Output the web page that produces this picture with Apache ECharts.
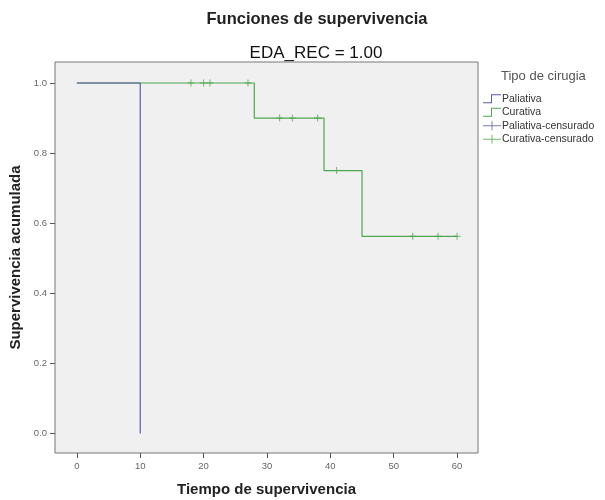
<!DOCTYPE html>
<html>
<head>
<meta charset="utf-8">
<script src="https://cdn.jsdelivr.net/npm/echarts@6/dist/echarts.min.js"></script>
<style>html,body{margin:0;padding:0;background:#fff}#c{width:605px;height:500px}</style>
</head>
<body>
<div id="c"></div>
<script>
// Data
const palTimes = [0, 10];
const palSurv = [1.0, 0.0];
const curTimes = [0, 28, 39, 45, 60];
const curSurv = [1.0, 0.9, 0.75, 0.5625, 0.5625];
const palCensTimes = [];
const palCensSurv = [];
const curCensTimes = [18, 20, 21, 27, 32, 34, 38, 41, 53, 57, 60];
const curCensSurv = [1, 1, 1, 1, 0.9, 0.9, 0.9, 0.75, 0.5625, 0.5625, 0.5625];
const xTicks = [0, 10, 20, 30, 40, 50, 60];
const yTicks = [0, 0.2, 0.4, 0.6, 0.8, 1.0];
const seriesNames = ['Paliativa', 'Curativa', 'Paliativa-censurado', 'Curativa-censurado'];

const zip = (a, b) => a.map((v, i) => [v, b[i]]);
const palColor = '#5a5aa4';
const curColor = '#4ea64e';
const stepIcon = 'path://M0,8h8v-8h10v1h-9v8h-9z';
const censIcon = 'path://M0,4h18v1h-18z M8.5,0h1v9h-1z';
const plusSym = 'path://M0,3h7v1h-7z M3,0h1v7h-1z';
const FF = 'Liberation Sans, Arial, sans-serif';

const chart = echarts.init(document.getElementById('c'), null, {renderer: 'canvas'});
chart.setOption({
  animation: false,
  backgroundColor: '#ffffff',
  title: [
    {text: 'Funciones de supervivencia', left: 312, top: 6, textAlign: 'center',
     textStyle: {fontFamily: FF, fontSize: 16.5, fontWeight: 'bold', color: '#222'}},
    {text: 'EDA_REC = 1.00', left: 311, top: 40, textAlign: 'center',
     textStyle: {fontFamily: FF, fontSize: 17, fontWeight: 'normal', color: '#111'}},
    {text: 'Tipo de cirugia', left: 496, top: 65,
     textStyle: {fontFamily: FF, fontSize: 13, fontWeight: 'normal', color: '#555'}}
  ],
  legend: {
    orient: 'vertical', left: 483, top: 93, padding: 0,
    itemWidth: 18, itemHeight: 9, itemGap: 2,
    data: [
      {name: seriesNames[0], icon: stepIcon},
      {name: seriesNames[1], icon: stepIcon},
      {name: seriesNames[2], icon: censIcon},
      {name: seriesNames[3], icon: censIcon}
    ],
    itemStyle: {borderWidth: 0},
    textStyle: {fontFamily: FF, fontSize: 10.5, lineHeight: 11.5, color: '#333', padding: [0, 0, 0, -4]},
    selectedMode: false
  },
  grid: {
    left: 55, right: 127, top: 62, bottom: 47,
    outerBoundsMode: 'none', containLabel: false,
    show: true, backgroundColor: '#f0f0f0', borderColor: '#777', borderWidth: 1
  },
  xAxis: {
    type: 'value', min: -3.45, max: 63.3,
    name: 'Tiempo de supervivencia', nameLocation: 'middle', nameGap: 29,
    nameTextStyle: {fontFamily: FF, fontSize: 15, fontWeight: 'bold', color: '#222'},
    axisLine: {show: false, onZero: false},
    splitLine: {show: false},
    axisTick: {show: true, length: 5, customValues: xTicks, lineStyle: {color: '#555'}},
    axisLabel: {customValues: xTicks, fontSize: 9.5, color: '#666', margin: 8,
      fontFamily: FF, formatter: v => String(v)}
  },
  yAxis: {
    type: 'value', min: -0.056, max: 1.06,
    name: 'Supervivencia acumulada', nameLocation: 'middle', nameGap: 30,
    nameTextStyle: {fontFamily: FF, fontSize: 15, fontWeight: 'bold', color: '#222'},
    axisLine: {show: false, onZero: false},
    splitLine: {show: false},
    axisTick: {show: true, length: 5, customValues: yTicks, lineStyle: {color: '#555'}},
    axisLabel: {customValues: yTicks, fontSize: 9.5, color: '#666', margin: 8,
      fontFamily: FF, formatter: v => v.toFixed(1)}
  },
  series: [
    {name: seriesNames[1], type: 'line', step: 'end', data: zip(curTimes, curSurv),
     symbol: 'none', color: curColor, lineStyle: {width: 1.2, color: curColor}, z: 2},
    {name: seriesNames[0], type: 'line', step: 'end', data: zip(palTimes, palSurv),
     symbol: 'none', color: palColor, lineStyle: {width: 1.2, color: palColor}, z: 3},
    {name: seriesNames[2], type: 'scatter', data: zip(palCensTimes, palCensSurv),
     symbol: plusSym, symbolSize: [7, 7], color: palColor, z: 4},
    {name: seriesNames[3], type: 'scatter', data: zip(curCensTimes, curCensSurv),
     symbol: plusSym, symbolSize: [7, 7], color: curColor, z: 4}
  ]
});
</script>
</body>
</html>
